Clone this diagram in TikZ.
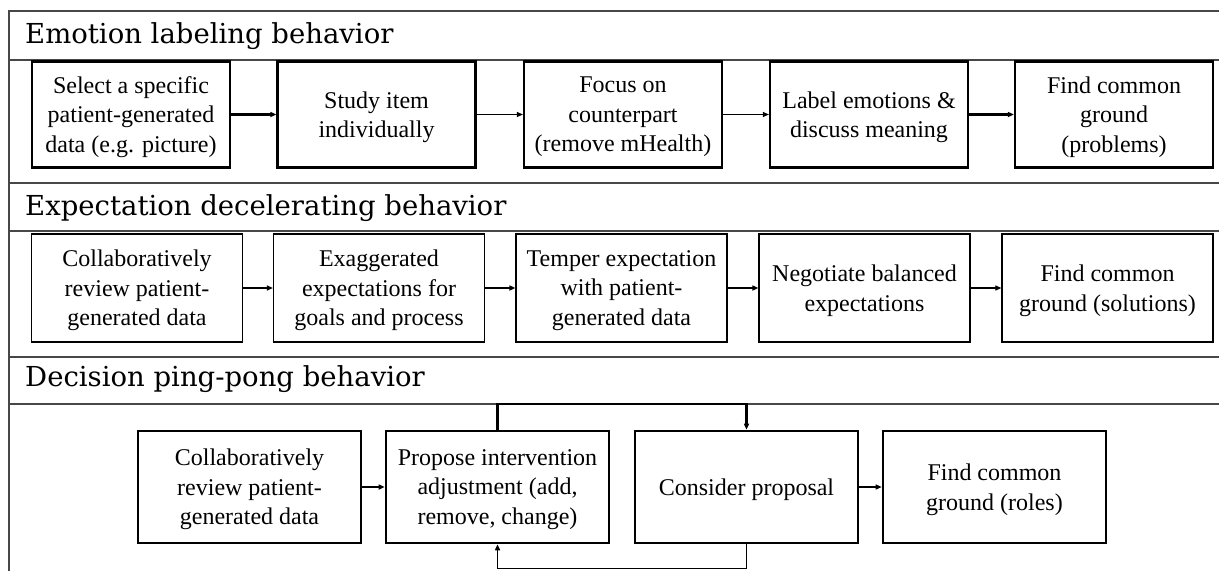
\documentclass[tikz,border=0pt]{standalone}
\usepackage{fontspec}
\setmainfont{Liberation Serif}
\newfontfamily\headfont{DejaVu Serif}
\usetikzlibrary{arrows.meta}
\begin{document}
\begin{tikzpicture}[x=1pt,y=-1pt,
  frameline/.style={draw=black!72,line width=1.6pt},
  headtext/.style={anchor=base west,inner sep=0pt,font=\headfont\fontsize{27.5}{32}\selectfont},
  boxbase/.style={draw=black,align=center,inner sep=0pt,text depth=0pt,font=\fontsize{24}{29.5}\selectfont},
  boxA/.style={boxbase,line width=2.2pt,minimum width=198pt,minimum height=106pt},
  boxB/.style={boxbase,line width=1.2pt,minimum width=211pt,minimum height=108pt},
  boxC/.style={boxbase,line width=2.6pt,minimum width=223pt,minimum height=112pt},
  thinarrow/.style={draw=black,line width=1.1pt,-{Triangle[length=6pt,width=5pt]}},
  thickarrow/.style={draw=black,line width=2.4pt,-{Triangle[length=6pt,width=5pt]}},
  loopline/.style={draw=black,line width=2.2pt}
]
\useasboundingbox (0,0) rectangle (1219,571);
% frame
\draw[frameline] (9,571) -- (9,11) -- (1219,11);
\foreach \yy in {60,183,231,357,404} {\draw[frameline] (9,\yy) -- (1219,\yy);}
% headers
\node[headtext] (h1) at (25,43) {Emotion labeling behavior};
\node[headtext] (h2) at (25,215) {Expectation decelerating behavior};
\node[headtext] (h3) at (25,386) {Decision ping-pong behavior};
% row 1
\node[boxA] (a1) at (131,114.5) {Select a specific\\patient-generated\\data (e.g. picture)};
\node[boxA] (a2) at (376.5,114.5) {Study item\\individually};
\node[boxA] (a3) at (623,114.5) {Focus on\\counterpart\\(remove mHealth)};
\node[boxA] (a4) at (869,114.5) {Label emotions \&\\discuss meaning};
\node[boxA] (a5) at (1114,114.5) {Find common\\ground\\(problems)};
\draw[thickarrow] (a1) -- (a2);
\draw[thinarrow] (a2) -- (a3);
\draw[thinarrow] (a3) -- (a4);
\draw[thickarrow] (a4) -- (a5);
% row 2
\node[boxB] (b1) at (137,288) {Collaboratively\\review patient-\\generated data};
\node[boxB] (b2) at (379,288) {Exaggerated\\expectations for\\goals and process};
\node[boxB] (b3) at (621.5,288) {Temper expectation\\with patient-\\generated data};
\node[boxB] (b4) at (864.5,288) {Negotiate balanced\\expectations};
\node[boxB] (b5) at (1107.5,288) {Find common\\ground (solutions)};
\draw[thinarrow] (b1) -- (b2);
\draw[thickarrow] (b2) -- (b3);
\draw[thickarrow] (b3) -- (b4);
\draw[thinarrow] (b4) -- (b5);
% row 3
\node[boxC] (c1) at (249.5,487) {Collaboratively\\review patient-\\generated data};
\node[boxC] (c2) at (497.5,487) {Propose intervention\\adjustment (add,\\remove, change)};
\node[boxC] (c3) at (746.5,487) {Consider proposal};
\node[boxC] (c4) at (994.5,487) {Find common\\ground (roles)};
\draw[thickarrow] (c1) -- (c2);
\draw[thinarrow] (c3) -- (c4);
\draw[loopline,-{Triangle[length=6pt,width=5pt]}] (c2.north) -- ++(0,-26) -| (c3.north);
\draw[draw=black,line width=1.6pt,-{Triangle[length=6pt,width=5pt]}] (c3.south) -- ++(0,24) -| (c2.south);
\end{tikzpicture}
\end{document}
